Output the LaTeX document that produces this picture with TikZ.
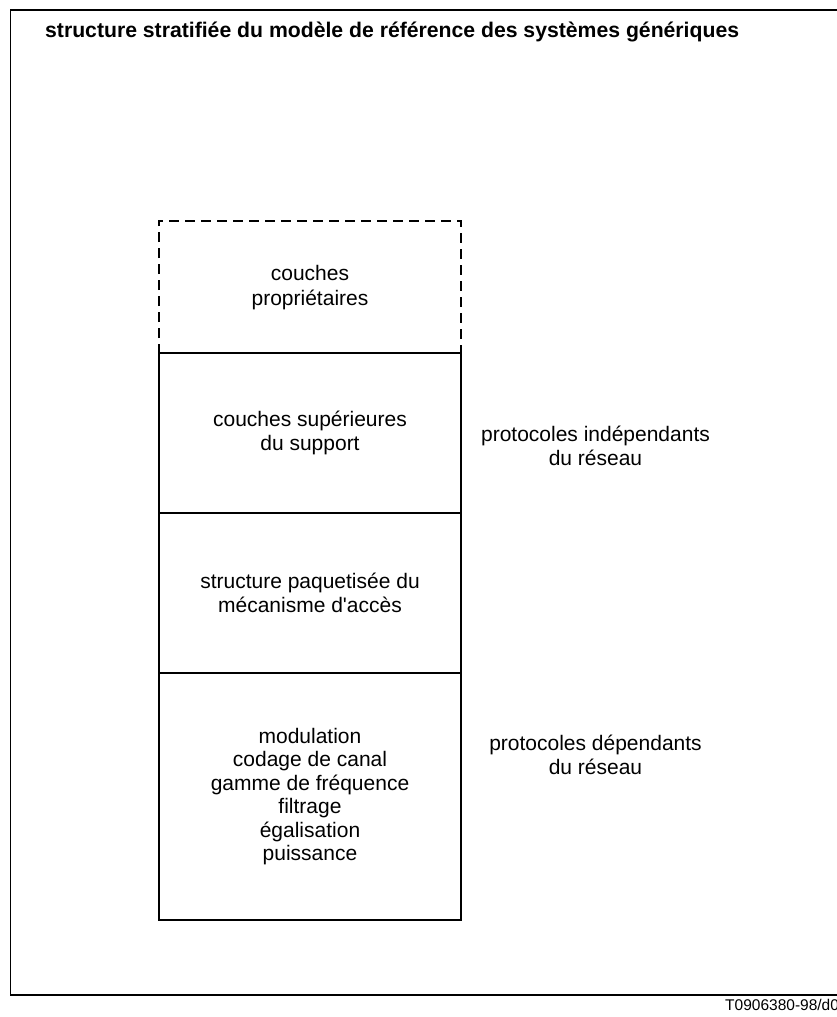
\documentclass[tikz,border=0pt]{standalone}
\usepackage{fontspec}
\setmainfont{Liberation Sans}
\begin{document}
\begin{tikzpicture}[x=1pt,y=-1pt,
  frameline/.style={line width=1.4pt},
  boxline/.style={line width=1.3pt},
  txt/.style={font=\fontsize{21}{24.5}\selectfont, align=center, inner sep=0pt},
  layer/.style={draw, boxline, minimum width=302pt, inner sep=0pt, font=\fontsize{21}{24.5}\selectfont, align=center},
  dashbox/.style={line width=1.8pt, dash pattern=on 10pt off 6pt}]
\useasboundingbox (0,0) rectangle (837,1017);
\draw[frameline] (10.5,10) rectangle (850,995);
\node[anchor=base west, inner sep=0pt, font=\fontsize{21.2}{24}\selectfont\bfseries] (title) at (45,37) {structure stratifiée du modèle de référence des systèmes génériques};
% layers
\node[inner sep=0pt, minimum width=302pt, minimum height=133pt, font=\fontsize{21}{24.5}\selectfont, align=center] (prop) at (310,287.5) {couches\\propriétaires};
\draw[dashbox] (prop.south west) -- (prop.north west) -- (prop.north east) -- (prop.south east);
\node[layer, minimum height=160pt] (sup) at (310,433) {couches supérieures\\du support};
\node[layer, minimum height=160pt] (paq) at (310,593) {structure paquetisée du\\mécanisme d\textquotesingle accès};
\node[layer, minimum height=247pt, font=\fontsize{21}{23.5}\selectfont] (phy) at (310,796.5) {modulation\\codage de canal\\gamme de fréquence\\filtrage\\égalisation\\puissance};
% side labels
\node[txt] (indep) at (595.5,446) {protocoles indépendants\\du réseau};
\node[txt] (dep) at (595.5,755) {protocoles dépendants\\du réseau};
\node[anchor=base west, inner sep=0pt, font=\fontsize{15.5}{18}\selectfont] (ref) at (725,1010) {T0906380-98/d0};
\end{tikzpicture}
\end{document}
